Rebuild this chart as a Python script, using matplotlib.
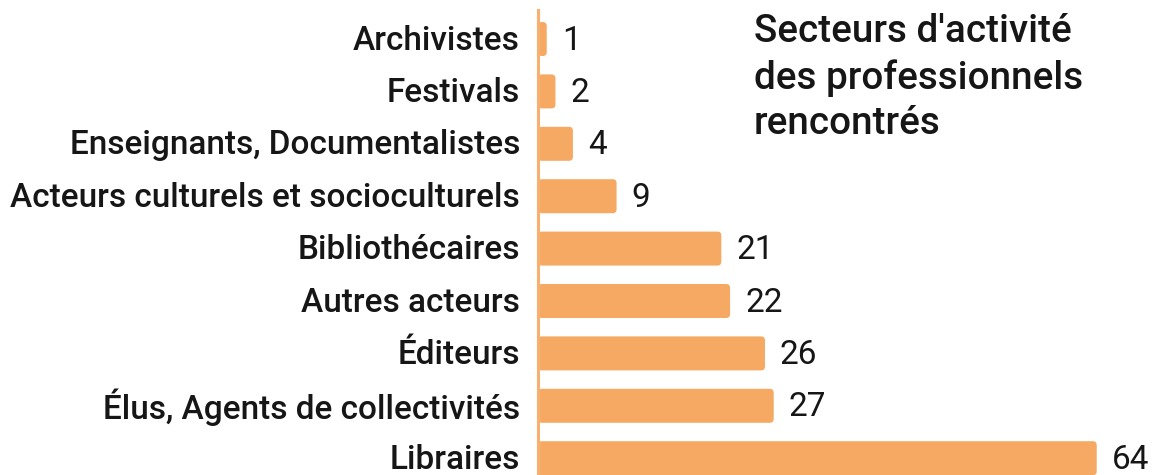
import matplotlib
matplotlib.use("Agg")
import matplotlib.pyplot as plt
from matplotlib.patches import FancyBboxPatch

plt.rcParams['font.family'] = ['Roboto', 'DejaVu Sans']

categories = ["Archivistes", "Festivals", "Enseignants, Documentalistes",
              "Acteurs culturels et socioculturels", "Bibliothécaires",
              "Autres acteurs", "Éditeurs", "Élus, Agents de collectivités",
              "Libraires"]
values = [1, 2, 4, 9, 21, 22, 26, 27, 64]
title = "Secteurs d'activité\ndes professionnels\nrencontrés"

bar_color = "#F5A962"
text_color = "#161616"

W, H = 1165, 475
fig = plt.figure(figsize=(W / 100, H / 100), dpi=100)
ax_left = 538
ax = fig.add_axes([ax_left / W, 0, 1 - ax_left / W, 1])

px_per_unit = 8.73
row_px = 52.4
first_center = 39
ax.set_xlim(0, (W - ax_left) / px_per_unit)
ax.set_ylim((H - first_center) / row_px, -first_center / row_px)

bar_h = 34 / row_px
aspect = (1 / row_px) / (1 / px_per_unit)
dy = 1.5 / row_px
for i, (cat, v) in enumerate(zip(categories, values)):
    p = FancyBboxPatch((0, i - bar_h / 2), v, bar_h,
                       boxstyle="round,pad=0,rounding_size=0.45",
                       mutation_aspect=aspect, fc=bar_color, ec="none")
    ax.add_patch(p)
    ax.text(v + 15 / px_per_unit, i + dy, str(v), va="center", ha="left",
            fontsize=24, color=text_color)
    ax.text(-18 / px_per_unit, i + dy, cat, va="center", ha="right",
            fontsize=24, color=text_color, weight="medium", clip_on=False)

ax.set_xticks([])
ax.set_yticks([])
for s in ["top", "right", "bottom"]:
    ax.spines[s].set_visible(False)
ax.spines["left"].set_color("#F7B070")
ax.spines["left"].set_linewidth(2.2)
ax.spines["left"].set_bounds((H - first_center) / row_px, (10 - first_center) / row_px)
ax.patch.set_alpha(0)

fig.text(754 / W, 1 - 13 / H, title, ha="left", va="top", fontsize=27.8,
         color=text_color, weight="medium", linespacing=1.3)

fig.savefig("out.png", dpi=100)
